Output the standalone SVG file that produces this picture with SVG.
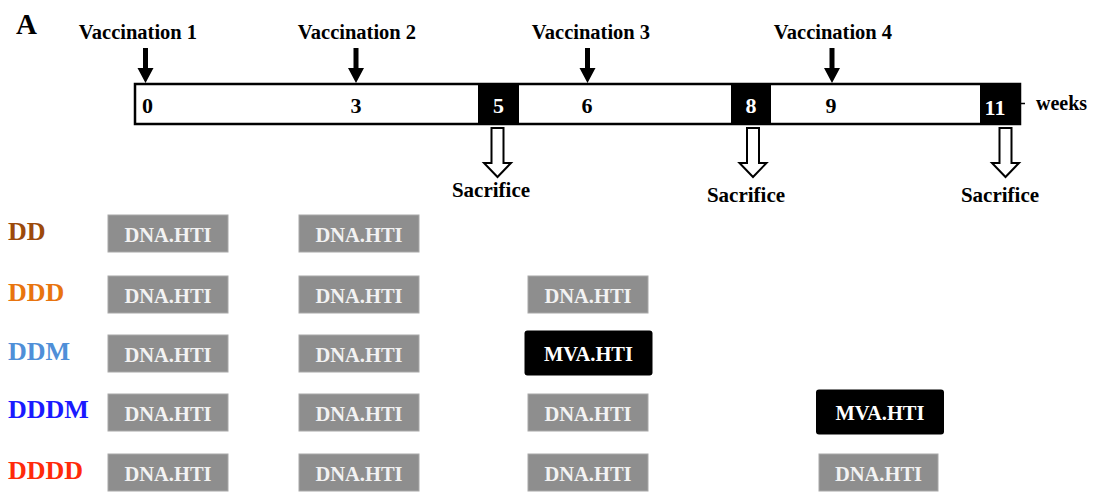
<svg xmlns="http://www.w3.org/2000/svg" width="1094" height="492" viewBox="0 0 1094 492">
<style>
text{font-family:"Liberation Serif","Times New Roman",serif;font-weight:bold}
.vac{font-size:20.5px;fill:#000;text-anchor:middle}
.num{font-size:22px;fill:#000;text-anchor:middle}
.numw{font-size:22px;fill:#fff;text-anchor:middle}
.sac{font-size:21px;fill:#000;text-anchor:middle}
.lbl{font-size:26px}
.dna{fill:#8e8e8e;stroke:#a8a8a8;stroke-width:1}
.mva{fill:#000}
.bt{font-size:20.5px;fill:#f2f2f2;text-anchor:middle}
.bw{font-size:20.5px;fill:#fff;text-anchor:middle}
.hollow{fill:#fff;stroke:#000;stroke-width:2}
</style>
<defs>
<path id="down" d="M-2.5,0 H2.5 V20 H8 L0,35 L-8,20 H-2.5 Z" fill="#000"/>
<path id="hol" d="M-6,0 H6 V35 H13.5 L0,49 L-13.5,35 H-6 Z" class="hollow"/>
</defs>
<text x="16" y="34" style="font-size:29px">A</text>

<g id="timeline">
<rect x="135" y="84" width="885" height="40" fill="#fff" stroke="#000" stroke-width="2.5"/>
<rect x="478" y="83" width="41" height="42" fill="#000"/>
<rect x="731" y="83" width="40" height="42" fill="#000"/>
<rect x="980" y="83" width="41" height="42" fill="#000"/>
<line x1="1021" y1="103.5" x2="1025" y2="103.5" stroke="#000" stroke-width="1.5"/>
<text x="147.5" y="113" class="num">0</text>
<text x="356" y="113" class="num">3</text>
<text x="498.5" y="113" class="numw">5</text>
<text x="587" y="113" class="num">6</text>
<text x="751" y="113" class="numw">8</text>
<text x="831" y="113" class="num">9</text>
<text x="995" y="115" class="numw">11</text>
<text x="1036" y="110" style="font-size:20px">weeks</text>
</g>

<g id="vaccinations">
<text x="138" y="39" class="vac">Vaccination 1</text>
<text x="357" y="39" class="vac">Vaccination 2</text>
<text x="591" y="39" class="vac">Vaccination 3</text>
<text x="833" y="39" class="vac">Vaccination 4</text>
</g>

<g id="connectors">
<use href="#down" x="145.5" y="48"/>
<use href="#down" x="356" y="48"/>
<use href="#down" x="587.5" y="48"/>
<use href="#down" x="832" y="48"/>
<use href="#hol" x="497.5" y="128"/>
<use href="#hol" x="753" y="128"/>
<use href="#hol" x="1005.5" y="128"/>
</g>

<g id="sacrifice">
<text x="491" y="197" class="sac">Sacrifice</text>
<text x="746" y="202" class="sac">Sacrifice</text>
<text x="1000" y="202" class="sac">Sacrifice</text>
</g>

<g id="row-DD">
<text x="8" y="240" class="lbl" fill="#9c4a0b">DD</text>
<rect x="108" y="215" width="120" height="37" class="dna"/><text x="168" y="241.5" class="bt">DNA.HTI</text>
<rect x="299" y="215" width="120" height="37" class="dna"/><text x="359" y="241.5" class="bt">DNA.HTI</text>
</g>
<g id="row-DDD">
<text x="8" y="301" class="lbl" fill="#e8740f">DDD</text>
<rect x="108" y="276" width="120" height="37" class="dna"/><text x="168" y="302.5" class="bt">DNA.HTI</text>
<rect x="299" y="276" width="120" height="37" class="dna"/><text x="359" y="302.5" class="bt">DNA.HTI</text>
<rect x="528" y="276" width="120" height="37" class="dna"/><text x="588" y="302.5" class="bt">DNA.HTI</text>
</g>
<g id="row-DDM">
<text x="8" y="360" class="lbl" fill="#4f8fd8">DDM</text>
<rect x="108" y="335" width="120" height="37" class="dna"/><text x="168" y="361.5" class="bt">DNA.HTI</text>
<rect x="299" y="335" width="120" height="37" class="dna"/><text x="359" y="361.5" class="bt">DNA.HTI</text>
<rect x="524.5" y="330.5" width="128" height="45" rx="3" class="mva"/><text x="588.5" y="360.5" class="bw">MVA.HTI</text>
</g>
<g id="row-DDDM">
<text x="8" y="418" class="lbl" fill="#1a1aff">DDDM</text>
<rect x="108" y="394" width="120" height="37" class="dna"/><text x="168" y="420.5" class="bt">DNA.HTI</text>
<rect x="299" y="394" width="120" height="37" class="dna"/><text x="359" y="420.5" class="bt">DNA.HTI</text>
<rect x="528" y="394" width="120" height="37" class="dna"/><text x="588" y="420.5" class="bt">DNA.HTI</text>
<rect x="816" y="389.5" width="128" height="45" rx="3" class="mva"/><text x="880" y="419.5" class="bw">MVA.HTI</text>
</g>
<g id="row-DDDD">
<text x="8" y="479" class="lbl" fill="#ff2a0a">DDDD</text>
<rect x="108" y="454" width="120" height="37" class="dna"/><text x="168" y="480.5" class="bt">DNA.HTI</text>
<rect x="299" y="454" width="120" height="37" class="dna"/><text x="359" y="480.5" class="bt">DNA.HTI</text>
<rect x="528" y="454" width="120" height="37" class="dna"/><text x="588" y="480.5" class="bt">DNA.HTI</text>
<rect x="819" y="454" width="119" height="37" class="dna"/><text x="878.5" y="480.5" class="bt">DNA.HTI</text>
</g>
</svg>
